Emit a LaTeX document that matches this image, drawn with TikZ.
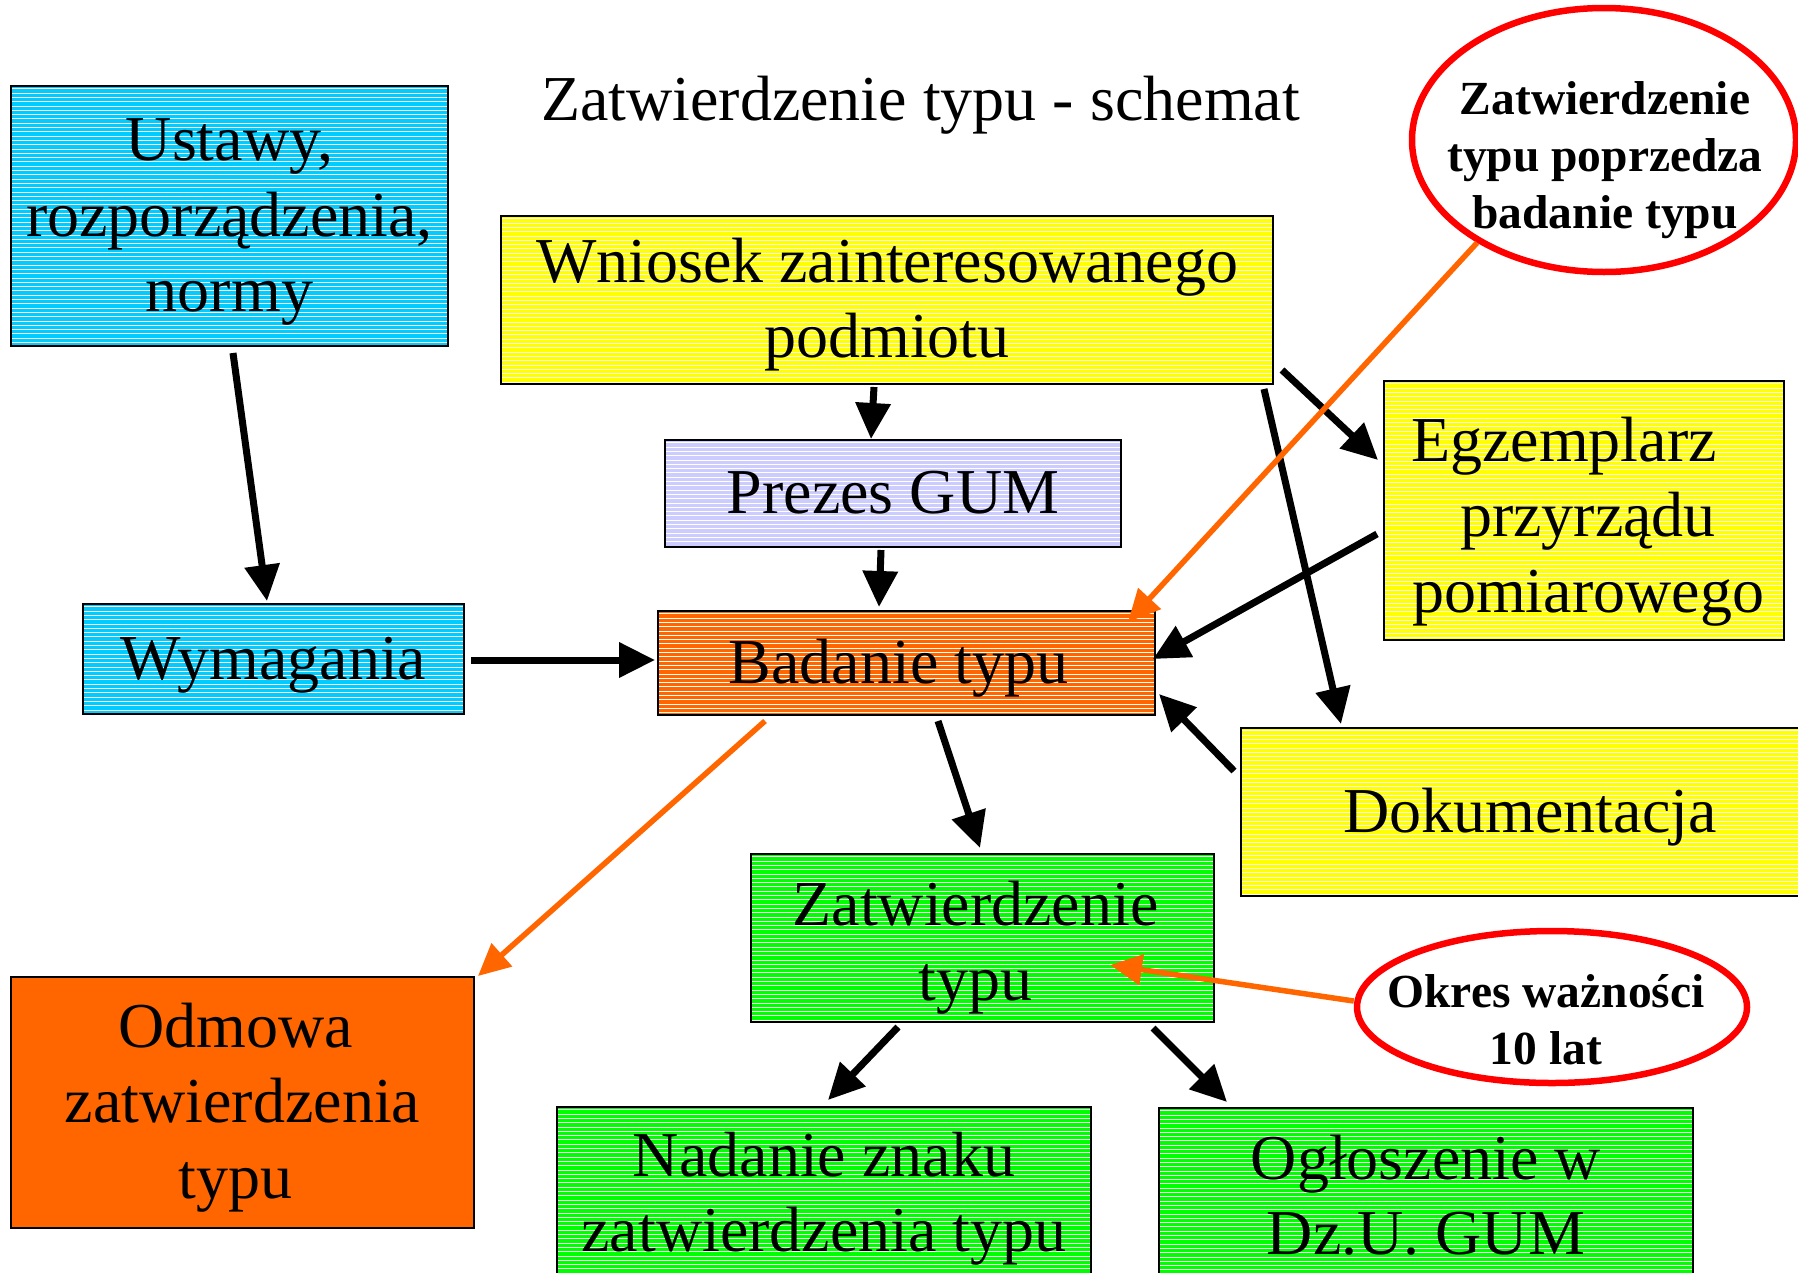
\documentclass[tikz,border=0pt]{standalone}
\usepackage{fontspec}
\setmainfont{Liberation Serif}
\usetikzlibrary{arrows.meta,calc,shapes.geometric}

\definecolor{boxcyan}{HTML}{00CCFF}
\definecolor{boxyellow}{HTML}{FFFF00}
\definecolor{boxlav}{HTML}{CCCCFF}
\definecolor{boxorange}{HTML}{FF6600}
\definecolor{boxgreen}{HTML}{00FF00}
\definecolor{notered}{HTML}{FF0000}

% fixed line box, so every line takes the same room whatever its letters
\newcommand{\lnstrut}{\rule[-16pt]{0pt}{72pt}}
% taller first line (text sits lower) and deeper last line (text sits higher)
\newcommand{\lnstruthigh}[1]{\rule[-16pt]{0pt}{\dimexpr72pt+#1\relax}}
\newcommand{\lnstrutdeep}[1]{\rule[\dimexpr-16pt-#1\relax]{0pt}{\dimexpr72pt+#1\relax}}

\tikzset{
  box/.style={rectangle, draw=black, line width=2pt, inner sep=0pt,
    align=center, font=\fontsize{64}{75.5}\selectfont},
  striped/.style={path picture={
    \foreach \k in {1,...,70}{
      \draw[white, line width=1pt]
        ($(path picture bounding box.north west)+(0,\k*4.3-1.5)$) --
        ($(path picture bounding box.north east)+(0,\k*4.3-1.5)$);
    }}},
  note/.style={ellipse, draw=notered, line width=6.5pt, fill=white, inner sep=0pt},
  notetext/.style={align=center, inner sep=0pt,
    font=\fontsize{47.5}{57}\selectfont\bfseries},
  flow/.style={draw=black, line width=7pt, -{Triangle[length=36pt,width=34pt]}},
  hint/.style={draw=boxorange, line width=5.5pt, -{Triangle[length=32pt,width=30pt]}},
}

\begin{document}
\begin{tikzpicture}[x=1pt, y=-1pt]
  \useasboundingbox[fill=white] (0,0) rectangle (1798,1272);

  % title
  \node[anchor=base, inner sep=0pt, font=\fontsize{64}{77}\selectfont]
    (title) at (920.5,120) {Zatwierdzenie typu - schemat};

  % boxes
  \node[box, striped, fill=boxcyan, minimum width=437pt, minimum height=260pt]
    (ustawy) at (229.5,216)
    {\lnstrut Ustawy,\\\lnstrut rozporządzenia,\\\lnstrut normy};
  \node[box, striped, fill=boxyellow, minimum width=772pt, minimum height=168pt]
    (wniosek) at (887,300)
    {\lnstrut Wniosek zainteresowanego\\\lnstrut podmiotu};
  \node[box, striped, fill=boxlav, minimum width=456pt, minimum height=107pt]
    (prezes) at (893,493.5) {\lnstrut Prezes GUM};
  \node[box, striped, fill=boxorange, minimum width=497pt, minimum height=104pt]
    (badanie) at (906.5,663) {\lnstrut Badanie typu\hspace*{16pt}};
  \node[box, striped, fill=boxcyan, minimum width=381pt, minimum height=110pt]
    (wymagania) at (273.5,659) {\lnstrut Wymagania};
  \node[box, striped, fill=boxyellow, minimum width=400pt, minimum height=259pt]
    (egz) at (1584,510.5)
    {\lnstruthigh{12pt}Egzemplarz\hspace*{40pt}\\\lnstrut\hspace*{8pt}przyrządu\\\lnstrut\hspace*{8pt}pomiarowego};
  \node[box, striped, fill=boxyellow, minimum width=578pt, minimum height=168pt]
    (dok) at (1530,812) {\lnstrut Dokumentacja};
  \node[box, striped, fill=boxgreen, minimum width=463pt, minimum height=168pt]
    (zatw) at (982.5,938)
    {\lnstruthigh{10pt}Zatwierdzenie\hspace*{14pt}\\\lnstrut typu\hspace*{14pt}};
  \node[box, fill=boxorange, minimum width=463pt, minimum height=251pt]
    (odmowa) at (242.5,1102.5)
    {\lnstrut Odmowa\hspace*{14pt}\\\lnstrut zatwierdzenia\hspace*{14pt}\\\lnstrut typu\hspace*{14pt}};
  \node[box, striped, fill=boxgreen, minimum width=534pt, minimum height=186pt]
    (nadanie) at (824,1200)
    {\lnstrut Nadanie znaku\\\lnstrutdeep{12pt}zatwierdzenia typu};
  \node[box, striped, fill=boxgreen, minimum width=534pt, minimum height=186pt]
    (ogl) at (1426,1201)
    {\lnstrut Ogłoszenie w\\\lnstrutdeep{8pt}Dz.U. GUM};

  % black flow arrows
  \draw[flow] ($(ustawy.south)+(3.5,6)$) -- ($(wymagania.north)+(-6.5,-2)$);
  \draw[flow] ($(wniosek.south)+(-13,2)$) -- ($(prezes.north)+(-22,0)$);
  \draw[flow] ($(prezes.south)+(-12,2)$) -- ($(badanie.north)+(-27.5,-3)$);
  \draw[flow] ($(wymagania.east)+(6,1)$) -- ($(badanie.west)+(-2,-3)$);
  \draw[flow] ($(wniosek.south east)+(8,-15)$) -- ($(egz.west)+(-5,-50.5)$);
  \draw[flow] ($(wniosek.south east)+(-10,4)$) -- ($(dok.north west)+(101,-3)$);
  \draw[flow] ($(egz.west)+(-6,23.5)$) -- ($(badanie.east)+(-3,-4)$);
  \draw[flow] ($(dok.west)+(-6,-41)$) -- ($(badanie.east)+(3,31)$);
  \draw[flow] ($(badanie.south)+(31.5,5)$) -- ($(zatw.north)+(-2.5,-5)$);
  \draw[flow] ($(zatw.south)+(-84.5,4)$) -- ($(nadanie.north)+(4,-6)$);
  \draw[flow] ($(zatw.south east)+(-62,5)$) -- ($(ogl.north west)+(69,-5)$);

  % callouts
  \node[note, minimum width=384pt, minimum height=264pt] (note1) at (1604,140) {};
  \node[notetext] (note1txt) at (1605,160)
    {Zatwierdzenie\\typu poprzedza\\badanie typu};
  \node[note, minimum width=390pt, minimum height=152pt] (note2) at (1552,1007) {};
  \node[notetext] (note2txt) at (1546,1020) {Okres ważności\\10 lat};

  % orange hint arrows
  \draw[hint] (note1.219.5) -- ($(badanie.north east)+(-28,12)$);
  \draw[hint] ($(badanie.south)+(-141.5,5)$) -- ($(odmowa.north east)+(3,0)$);
  \draw[hint] ($(note2.west)+(0,-6)$) -- ($(zatw.center)+(127.5,27)$);
\end{tikzpicture}
\end{document}
